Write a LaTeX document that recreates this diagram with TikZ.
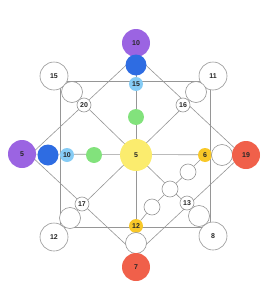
\documentclass[tikz,border=0pt]{standalone}
\usepackage{fontspec}
\setmainfont{Liberation Sans}
\usepackage{tikz}
\usetikzlibrary{backgrounds}
\definecolor{mypurple}{RGB}{155,100,226}
\definecolor{myblue}{RGB}{46,108,226}
\definecolor{mylblue}{RGB}{134,204,245}
\definecolor{mygreen}{RGB}{130,226,124}
\definecolor{myyellow}{RGB}{251,236,110}
\definecolor{mygold}{RGB}{248,200,40}
\definecolor{myred}{RGB}{240,96,74}
\definecolor{mygray}{RGB}{150,150,150}
\tikzset{
  dot/.style={circle, inner sep=0pt, text=black!85, font=\fontsize{7}{8}\selectfont\bfseries},
  bigdot/.style={dot, minimum size=28pt},
  middot/.style={dot, minimum size=21pt},
  smalldot/.style={dot, minimum size=14pt},
  tinydot/.style={dot, minimum size=16pt},
  hollow/.style={draw=mygray, fill=white, line width=0.6pt},
  edge/.style={draw=mygray, line width=0.6pt}
}
\begin{document}
\begin{tikzpicture}[x=1pt, y=-1pt]
  \useasboundingbox (0,0) rectangle (275,300);
  % frame points
  \coordinate (dT) at (136,56);
  \coordinate (dR) at (242,155);
  \coordinate (dB) at (136,254);
  \coordinate (dL) at (30,155);
  \coordinate (rTL) at (60,81);
  \coordinate (rTR) at (210,81);
  \coordinate (rBR) at (210,227);
  \coordinate (rBL) at (60,227);
  % centre
  \node[bigdot, fill=myyellow, minimum size=32pt] (c5) at (136,155) {5};
  % top arm
  \node[bigdot, fill=mypurple] (top10) at (136,43) {10};
  \node[middot, fill=myblue] (topb) at (136,65) {};
  \node[smalldot, fill=mylblue] (top15) at (136,84) {15};
  \node[tinydot, fill=mygreen] (topg) at (136,117) {};
  % left arm
  \node[bigdot, fill=mypurple] (left5) at (22,154) {5};
  \node[middot, fill=myblue] (leftb) at (48,155) {};
  \node[smalldot, fill=mylblue] (left10) at (67,155) {10};
  \node[tinydot, fill=mygreen] (leftg) at (94,155) {};
  % right arm
  \node[smalldot, fill=mygold] (right6) at (205,155) {6};
  \node[middot, hollow] (rightw) at (222,155) {};
  \node[bigdot, fill=myred] (right19) at (246,155) {19};
  % bottom arm
  \node[smalldot, fill=mygold] (bot12) at (136,226) {12};
  \node[middot, hollow] (botw) at (136,243) {};
  \node[bigdot, fill=myred] (bot7) at (136,267) {7};
  % corners
  \node[bigdot, hollow] (tl15) at (54,76) {15};
  \node[middot, hollow] (tlw) at (72,92) {};
  \node[smalldot, hollow] (tl20) at (84,105) {20};
  \node[bigdot, hollow] (tr11) at (213,76) {11};
  \node[middot, hollow] (trw) at (196,92) {};
  \node[smalldot, hollow] (tr16) at (183,105) {16};
  \node[bigdot, hollow] (bl12) at (54,237) {12};
  \node[middot, hollow] (blw) at (70,218) {};
  \node[smalldot, hollow] (bl17) at (82,204) {17};
  \node[bigdot, hollow] (br8) at (213,236) {8};
  \node[middot, hollow] (brw) at (199,216) {};
  \node[smalldot, hollow] (br13) at (187,203) {13};
  % diagonal chain
  \node[tinydot, hollow] (dg1) at (188,172) {};
  \node[tinydot, hollow] (dg2) at (170,189) {};
  \node[tinydot, hollow] (dg3) at (152,207) {};
  % lines behind
  \begin{scope}[on background layer]
    \draw[edge] (dT) -- (dR) -- (dB) -- (dL) -- cycle;
    \draw[edge] (rTL) rectangle (rBR);
    \draw[edge] (top10) -- (bot7);
    \draw[edge] (left5) -- (right19);
    \draw[edge] (rTL) -- (rBR);
    \draw[edge] (rTR) -- (rBL);
    \draw[edge] (right6) -- (dg1) -- (dg2) -- (dg3) -- (bot12);
  \end{scope}
\end{tikzpicture}
\end{document}
